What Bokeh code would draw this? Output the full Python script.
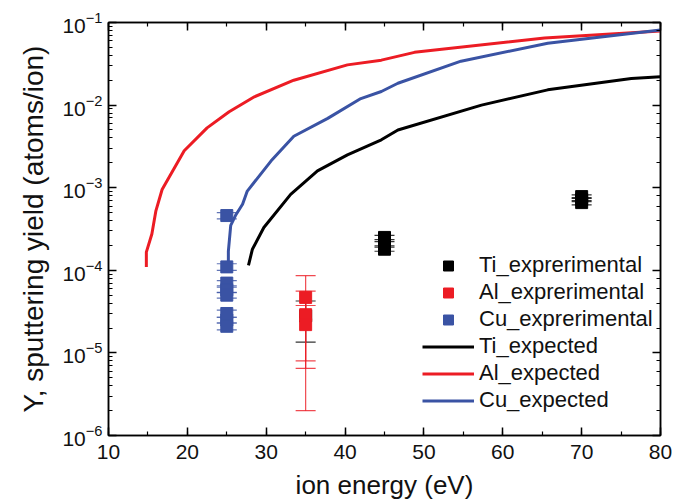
from bokeh.plotting import figure
from bokeh.models import (Range1d, LinearAxis, LogAxis, SingleIntervalTicker, LogTicker,
                          Whisker, TeeHead, ColumnDataSource, Legend, LegendItem,
                          CustomJSTickFormatter)
from bokeh.embed import file_html
from bokeh.resources import INLINE

# ---- data ----
ti_exp_x = [35, 45, 45, 45, 70, 70, 70]
ti_exp_y = [2.8e-5, 2.5e-4, 2.1e-4, 1.8e-4, 7.8e-4, 7.2e-4, 6.6e-4]
ti_exp_err = [1.45e-5, 1.5e-5, 1.2e-5, 1.0e-5, 4e-5, 4e-5, 4e-5]

al_exp_x = [35, 35, 35]
al_exp_y = [4.7e-5, 2.9e-5, 2.2e-5]
al_exp_err = [3.9e-5, 2.7e-5, 1.55e-5]

cu_exp_x = [25, 25, 25, 25, 25, 25, 25, 25]
cu_exp_y = [4.6e-4, 1.1e-4, 7.0e-5, 5.8e-5, 5.0e-5, 3.0e-5, 2.5e-5, 2.1e-5]
cu_exp_err = [0.4e-4, 0.1e-4, 0.5e-5, 0.45e-5, 0.4e-5, 0.3e-5, 0.2e-5, 0.2e-5]

ti_calc_x = [27.75, 28.25, 29.7, 33.1, 36.5, 40.3, 44.6, 46.7, 57.3, 65.7, 76.3, 80]
ti_calc_y = [1.15e-4, 1.8e-4, 3.3e-4, 8.3e-4, 1.6e-3, 2.5e-3, 3.8e-3, 5.0e-3, 1.0e-2, 1.53e-2, 2.1e-2, 2.2e-2]

al_calc_x = [14.8, 14.8, 15.5, 16.0, 16.8, 19.6, 22.5, 25.3, 28.5, 33.5, 40.3, 44.6, 48.8, 65.3, 80]
al_calc_y = [1.1e-4, 1.66e-4, 2.75e-4, 5.2e-4, 9.5e-4, 2.8e-3, 5.3e-3, 8.3e-3, 1.26e-2, 2.0e-2,
             3.07e-2, 3.5e-2, 4.35e-2, 6.5e-2, 7.9e-2]

cu_calc_x = [25.2, 25.2, 25.5, 26.1, 27.0, 27.6, 30.6, 33.5, 37.8, 42.0, 44.6, 46.7, 54.7, 65.7, 80]
cu_calc_y = [1.15e-4, 1.7e-4, 3.5e-4, 4.6e-4, 6.3e-4, 9.1e-4, 2.1e-3, 4.2e-3, 6.9e-3, 1.2e-2,
             1.46e-2, 1.84e-2, 3.4e-2, 5.6e-2, 8.1e-2]

BLACK = "#000000"
RED = "#ec1c24"
BLUE = "#3a53a4"
FONT = "Liberation Sans"

p = figure(width=675, height=502, output_backend="svg", toolbar_location=None,
           x_range=Range1d(10, 80), y_range=Range1d(1e-6, 1e-1), y_axis_type="log",
           min_border_left=108, min_border_right=15, min_border_top=22, min_border_bottom=63)
p.grid.visible = False
p.outline_line_color = BLACK
p.outline_line_width = 1.5
p.background_fill_color = "white"
p.border_fill_color = "white"

p.xaxis.ticker = SingleIntervalTicker(interval=10, num_minor_ticks=2)

def style_axis(ax):
    ax.axis_line_color = BLACK
    ax.axis_line_width = 1.5
    ax.major_tick_in = 8
    ax.major_tick_out = 0
    ax.minor_tick_in = 4
    ax.minor_tick_out = 0
    ax.major_tick_line_width = 1.5
    ax.minor_tick_line_width = 1.2
    ax.major_label_text_font = FONT
    ax.major_label_text_font_size = "21px"
    ax.major_label_text_color = "#111111"
    ax.axis_label_text_font = FONT
    ax.axis_label_text_font_size = "26px"
    ax.axis_label_text_font_style = "normal"
    ax.axis_label_text_color = "#111111"

for ax in p.xaxis + p.yaxis:
    style_axis(ax)

p.xaxis.axis_label = "ion energy (eV)"
p.xaxis.major_label_standoff = 9
p.xaxis.axis_label_standoff = 8
p.yaxis.axis_label = "Y, sputtering yield (atoms/ion)"
p.yaxis.axis_label_text_font_size = "28px"
p.yaxis.major_label_standoff = 6
p.yaxis.axis_label_standoff = 10

top = LinearAxis(ticker=SingleIntervalTicker(interval=10, num_minor_ticks=2),
                 formatter=CustomJSTickFormatter(code="return '';"))
style_axis(top)
top.major_label_standoff = 0
p.add_layout(top, "above")
right = LogAxis(ticker=LogTicker(), formatter=CustomJSTickFormatter(code="return '';"))
style_axis(right)
right.major_label_standoff = 0
p.add_layout(right, "right")

# expected curves
r_ti_l = p.line(ti_calc_x, ti_calc_y, line_color=BLACK, line_width=3)
r_al_l = p.line(al_calc_x, al_calc_y, line_color=RED, line_width=3)
r_cu_l = p.line(cu_calc_x, cu_calc_y, line_color=BLUE, line_width=3)

def add_points(xs, ys, errs, color, alpha):
    lo = [y - e for y, e in zip(ys, errs)]
    hi = [y + e for y, e in zip(ys, errs)]
    src = ColumnDataSource(dict(x=xs, y=ys, lo=lo, hi=hi))
    w = Whisker(source=src, base="x", lower="lo", upper="hi", dimension="height",
                line_color=color, line_width=1.2, line_alpha=alpha,
                upper_head=TeeHead(size=20, line_color=color, line_width=1.2, line_alpha=alpha),
                lower_head=TeeHead(size=20, line_color=color, line_width=1.2, line_alpha=alpha))
    p.add_layout(w)
    return p.scatter("x", "y", source=src, marker="square", size=12,
                     fill_color=color, line_color=color)

r_ti_p = add_points(ti_exp_x, ti_exp_y, ti_exp_err, BLACK, 0.8)
r_al_p = add_points(al_exp_x, al_exp_y, al_exp_err, RED, 0.8)
r_cu_p = add_points(cu_exp_x, cu_exp_y, cu_exp_err, BLUE, 0.8)

legend = Legend(items=[
    LegendItem(label="Ti_exprerimental", renderers=[r_ti_p]),
    LegendItem(label="Al_exprerimental", renderers=[r_al_p]),
    LegendItem(label="Cu_exprerimental", renderers=[r_cu_p]),
    LegendItem(label="Ti_expected", renderers=[r_ti_l]),
    LegendItem(label="Al_expected", renderers=[r_al_l]),
    LegendItem(label="Cu_expected", renderers=[r_cu_l]),
], location=(314, 22))
legend.border_line_color = None
legend.background_fill_alpha = 0
legend.padding = 0
legend.margin = 0
legend.spacing = 1
legend.glyph_width = 52
legend.glyph_height = 25
legend.label_height = 25
legend.label_standoff = 5
legend.label_text_font = FONT
legend.label_text_font_size = "22px"
legend.label_text_color = "#111111"
p.add_layout(legend, "center")

open("out.html", "w").write(file_html(p, INLINE))
